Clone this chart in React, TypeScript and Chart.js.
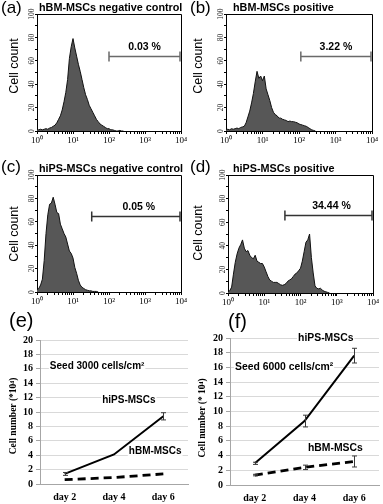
import React, { useEffect, useRef } from 'react';
import { Chart, registerables } from 'chart.js';

Chart.register(...registerables);

const SANS = "'Liberation Sans', Arial, Helvetica, sans-serif";
const SERIF = "'Liberation Serif', 'Times New Roman', serif";

// ---------- flow cytometry histograms (counts per channel; channel width 0.05 decade from 10^0) ----------
const CHANNEL_DECADES = 0.05;
const DECADE_LABELS = ['10⁰', '10¹', '10²', '10³', '10⁴'];
const COUNT_TICKS = [0, 20, 40, 60, 80, 100];

const hbmNegative = [1, 1, 1.5, 1, 1.5, 2, 1.5, 2.5, 3, 4, 5, 7, 10, 13, 18, 25, 33, 44, 62, 72, 79, 71, 64, 57, 51, 44, 37, 31, 27, 22, 19, 16, 13, 10, 8, 6, 5, 4, 3, 2, 2, 1, 1, 0.5, 0, 0, 0.5, 0, 0];
const hbmPositive = [1, 1.5, 1, 2, 1.5, 2, 2.5, 2, 3, 3.5, 4, 7, 12, 17, 24, 32, 42, 51, 45, 47, 43, 47, 36, 31, 26, 20, 16, 14, 13, 11, 11, 10, 9.5, 9, 8, 8.5, 8, 8, 7.5, 7, 6, 5.5, 5, 4.5, 4, 3, 2, 1, 0.5, 0];
const hipsNegative = [2, 3, 6, 11, 27, 50, 66, 75, 76, 81, 75, 68, 67, 58, 54, 50, 47, 41, 35, 33, 29, 21, 16, 10, 6, 4, 3, 2, 1.5, 1, 1, 0.5, 0.5, 0.5, 0];
const hipsPositive = [1, 2, 5, 16, 26, 33, 38, 41, 45, 38, 35, 36, 32, 30, 29, 32, 27, 26, 25, 25, 22, 18, 14, 11, 10, 9, 9, 9, 8, 7, 6.5, 7, 8, 10, 11, 12, 14, 16, 17, 19, 21, 27, 35, 43, 45, 50, 30, 17, 6, 4, 3.5, 4, 2.5, 1.5, 1, 0.5, 0];

const HIST_TITLES = ['hBM-MSCs negative control', 'hBM-MSCs positive', 'hiPS-MSCs negative control', 'hiPS-MSCs positive'];
const GATE_START = [2.0, 2.05, 1.52, 1.57];
const GATE_LEVEL = [64, 64, 65, 66];
const GATE_LABELS = ['0.03 %', '3.22 %', '0.05 %', '34.44 %'];
const PANEL_LETTERS = ['(a)', '(b)', '(c)', '(d)', '(e)', '(f)'];

// ---------- growth curves ----------
const DAYS = ['day 2', 'day 4', 'day 6'];
const E_HIPS = [1.4, 4.1, 9.4];
const E_HIPS_ERR = [0.2, 0, 0.5];
const E_HBM = [0.6, 0.9, 1.4];
const E_HBM_ERR = [0, 0, 0];
const F_HIPS = [2.95, 8.7, 17.6];
const F_HIPS_ERR = [0.15, 0.8, 1.0];
const F_HBM = [1.35, 2.4, 3.2];
const F_HBM_ERR = [0.1, 0.3, 0.75];

type Box = { x: number; y: number; w: number; h: number };
type Area = { l: number; t: number; r: number; b: number };

function frame(box: Box, area: Area) {
  return {
    padding: { left: 0, top: area.t - box.y, right: box.x + box.w - area.r, bottom: 0 },
    yWidth: area.l - box.x,
    xHeight: box.y + box.h - area.b,
  };
}

const DECADE_POSITIONS: number[] = [];
for (let d = 0; d < 4; d++) for (let k = 1; k <= 9; k++) DECADE_POSITIONS.push(d + Math.log10(k));
DECADE_POSITIONS.push(4);

const HIST_PANELS = [
  { i: 0, values: hbmNegative, box: { x: 0, y: 0, w: 190, h: 152 }, area: { l: 37, t: 14, r: 181, b: 131 }, letterPos: [1, 8], titlePos: [39, 8], ylabPos: [15, 66], gateColor: '#6a6a6a', labelShift: 0 },
  { i: 1, values: hbmPositive, box: { x: 190, y: 0, w: 193, h: 152 }, area: { l: 226, t: 14, r: 372, b: 131 }, letterPos: [190, 8], titlePos: [233, 8], ylabPos: [199, 66], gateColor: '#6a6a6a', labelShift: 0 },
  { i: 2, values: hipsNegative, box: { x: 0, y: 150, w: 190, h: 162 }, area: { l: 37, t: 175, r: 181, b: 292 }, letterPos: [1, 167], titlePos: [39, 169], ylabPos: [15, 234], gateColor: '#333333', labelShift: 3 },
  { i: 3, values: hipsPositive, box: { x: 190, y: 150, w: 193, h: 162 }, area: { l: 228, t: 175, r: 373, b: 293 }, letterPos: [190, 167], titlePos: [233, 169], ylabPos: [199, 233], gateColor: '#333333', labelShift: 3 },
];

function histConfig(p: any) {
  const f = frame(p.box, p.area);
  const decor = {
    id: 'histDecor',
    afterDraw(chart: any) {
      const { ctx, chartArea: a, scales } = chart;
      const xs = scales.x;
      const ys = scales.y;
      ctx.save();
      ctx.strokeStyle = '#000';
      ctx.lineWidth = 1;
      ctx.beginPath();
      ctx.moveTo(a.left, a.top + 0.5);
      ctx.lineTo(a.right + 0.5, a.top + 0.5);
      ctx.lineTo(a.right + 0.5, a.bottom);
      ctx.stroke();
      // gate bracket
      const x1 = xs.getPixelForValue(GATE_START[p.i]);
      const x2 = xs.getPixelForValue(xs.max) - 1;
      const gy = Math.round(ys.getPixelForValue(GATE_LEVEL[p.i])) + 0.5;
      ctx.strokeStyle = p.gateColor;
      ctx.lineWidth = 1.5;
      ctx.beginPath();
      ctx.moveTo(x1, gy); ctx.lineTo(x2, gy);
      ctx.moveTo(x1, gy - 5); ctx.lineTo(x1, gy + 5);
      ctx.moveTo(x2, gy - 5); ctx.lineTo(x2, gy + 5);
      ctx.stroke();
      ctx.fillStyle = '#000';
      ctx.font = `bold 10.5px ${SANS}`;
      ctx.textAlign = 'center';
      ctx.textBaseline = 'middle';
      ctx.fillText(GATE_LABELS[p.i], (x1 + x2) / 2 + p.labelShift, gy - 9);
      // rotated count tick labels
      ctx.fillStyle = '#222';
      ctx.font = `7.5px ${SERIF}`;
      for (const v of COUNT_TICKS) {
        const y = ys.getPixelForValue(v);
        ctx.save();
        ctx.translate(a.left - 5, y);
        ctx.rotate(-Math.PI / 2);
        ctx.textAlign = 'center';
        ctx.textBaseline = 'middle';
        ctx.fillText(String(v), 0, 0);
        ctx.restore();
      }
      // title, letter, axis title
      const ox = p.box.x, oy = p.box.y;
      ctx.fillStyle = '#000';
      ctx.textAlign = 'left';
      ctx.textBaseline = 'middle';
      ctx.font = `bold 10.8px ${SANS}`;
      ctx.fillText(HIST_TITLES[p.i], p.titlePos[0] - ox, p.titlePos[1] - oy);
      ctx.font = `17px ${SANS}`;
      ctx.fillText(PANEL_LETTERS[p.i], p.letterPos[0] - ox, p.letterPos[1] - oy);
      ctx.save();
      ctx.translate(p.ylabPos[0] - ox, p.ylabPos[1] - oy);
      ctx.rotate(-Math.PI / 2);
      ctx.textAlign = 'center';
      ctx.font = `12.5px ${SANS}`;
      ctx.fillText('Cell count', 0, 0);
      ctx.restore();
      ctx.restore();
    },
  };
  return {
    type: 'line',
    data: {
      datasets: [{
        data: p.values.map((v: number, i: number) => ({ x: i * CHANNEL_DECADES, y: v })),
        borderColor: '#111',
        borderWidth: 1,
        backgroundColor: '#575757',
        fill: 'origin',
        pointRadius: 0,
        tension: 0,
      }],
    },
    options: {
      responsive: false,
      animation: false,
      events: [],
      layout: { padding: f.padding },
      plugins: { legend: { display: false }, tooltip: { enabled: false } },
      scales: {
        x: {
          type: 'linear', min: 0, max: 4,
          afterFit: (s: any) => { s.height = f.xHeight; },
          afterBuildTicks: (s: any) => { s.ticks = DECADE_POSITIONS.map((v) => ({ value: v })); },
          ticks: {
            autoSkip: false, maxRotation: 0, minRotation: 0, padding: 1, color: '#000',
            font: { family: SERIF, size: 9 },
            callback: (v: number) => (Number.isInteger(v) ? DECADE_LABELS[v] : ''),
          },
          grid: { drawOnChartArea: false, drawTicks: true, tickLength: 3, color: '#000' },
          border: { color: '#000', width: 1 },
        },
        y: {
          min: 0, max: 100,
          afterFit: (s: any) => { s.width = f.yWidth; },
          ticks: { stepSize: 10, autoSkip: false, display: false },
          grid: { drawOnChartArea: false, drawTicks: true, tickLength: 2, color: '#000' },
          border: { color: '#000', width: 1 },
        },
      },
    },
    plugins: [decor],
  };
}

const GROWTH_PANELS = [
  {
    i: 4, hips: E_HIPS, hipsErr: E_HIPS_ERR, hbm: E_HBM, hbmErr: E_HBM_ERR,
    box: { x: 0, y: 305, w: 192, h: 199 }, area: { l: 40, t: 340, r: 188, b: 484 },
    letterPos: [9, 321], ytitlePos: [14, 416], ytitle: 'Cell number (*10⁴)',
    notes: [
      { text: 'Seed 3000 cells/cm²', x: -0.3, y: 16.3, size: 10 },
      { text: 'hiPS-MSCs', x: 0.76, y: 11.7, size: 10 },
      { text: 'hBM-MSCs', x: 1.3, y: 4.6, size: 10 },
    ],
  },
  {
    i: 5, hips: F_HIPS, hipsErr: F_HIPS_ERR, hbm: F_HBM, hbmErr: F_HBM_ERR,
    box: { x: 192, y: 305, w: 191, h: 199 }, area: { l: 230, t: 338, r: 379, b: 485 },
    letterPos: [228, 322], ytitlePos: [203, 418], ytitle: 'Cell number (* 10⁴)',
    notes: [
      { text: 'hiPS-MSCs', x: 0.87, y: 20, size: 10.4 },
      { text: 'Seed 6000 cells/cm²', x: -0.4, y: 16, size: 10.4 },
      { text: 'hBM-MSCs', x: 1.07, y: 5, size: 10.4 },
    ],
  },
];

function growthConfig(p: any) {
  const f = frame(p.box, p.area);
  const decor = {
    id: 'growthDecor',
    afterDatasetsDraw(chart: any) {
      const { ctx, scales } = chart;
      const xs = scales.x;
      const ys = scales.y;
      ctx.save();
      // error bars
      ctx.strokeStyle = '#3a3a3a';
      ctx.lineWidth = 1;
      [p.hipsErr, p.hbmErr].forEach((errs: number[], di: number) => {
        const meta = chart.getDatasetMeta(di);
        const vals = chart.data.datasets[di].data;
        errs.forEach((e, j) => {
          if (!e) return;
          const x = Math.round(meta.data[j].x) + 0.5;
          const y1 = ys.getPixelForValue(vals[j] + e);
          const y2 = ys.getPixelForValue(vals[j] - e);
          ctx.beginPath();
          ctx.moveTo(x, y1); ctx.lineTo(x, y2);
          ctx.moveTo(x - 2.5, y1); ctx.lineTo(x + 2.5, y1);
          ctx.moveTo(x - 2.5, y2); ctx.lineTo(x + 2.5, y2);
          ctx.stroke();
        });
      });
      // notes with white background
      ctx.textAlign = 'left';
      ctx.textBaseline = 'middle';
      for (const n of p.notes) {
        ctx.font = `bold ${n.size}px ${SANS}`;
        const x = xs.getPixelForValue(n.x);
        const y = ys.getPixelForValue(n.y);
        const w = ctx.measureText(n.text).width;
        ctx.fillStyle = '#fff';
        ctx.fillRect(x - 1, y - 5, w + 2, 10);
        ctx.fillStyle = '#000';
        ctx.fillText(n.text, x, y);
      }
      const ox = p.box.x, oy = p.box.y;
      ctx.font = `20px ${SANS}`;
      ctx.fillText(PANEL_LETTERS[p.i], p.letterPos[0] - ox, p.letterPos[1] - oy);
      ctx.save();
      ctx.translate(p.ytitlePos[0] - ox, p.ytitlePos[1] - oy);
      ctx.rotate(-Math.PI / 2);
      ctx.textAlign = 'center';
      ctx.font = `bold 9.5px ${SERIF}`;
      ctx.fillText(p.ytitle, 0, 0);
      ctx.restore();
      ctx.restore();
    },
  };
  return {
    type: 'line',
    data: {
      labels: DAYS,
      datasets: [
        { data: p.hips, borderColor: '#000', borderWidth: 2, pointRadius: 0, fill: false, tension: 0 },
        { data: p.hbm, borderColor: '#000', borderWidth: 2.8, borderDash: [8, 5], pointRadius: 0, fill: false, tension: 0 },
      ],
    },
    options: {
      responsive: false,
      animation: false,
      events: [],
      layout: { padding: f.padding },
      plugins: { legend: { display: false }, tooltip: { enabled: false } },
      scales: {
        x: {
          offset: true,
          afterFit: (s: any) => { s.height = f.xHeight; },
          grid: { display: false, drawTicks: false, tickLength: 0 },
          border: { display: true, color: '#a6a6a6' },
          ticks: { padding: 7, color: '#000', font: { family: SERIF, size: 10, weight: 'bold' } },
        },
        y: {
          min: 0, max: 20,
          afterFit: (s: any) => { s.width = f.yWidth; },
          ticks: { stepSize: 2, autoSkip: false, padding: 3, color: '#000', font: { family: SERIF, size: 10, weight: 'bold' } },
          grid: { color: '#d9d9d9', tickColor: '#a6a6a6', tickLength: 4 },
          border: { color: '#a6a6a6' },
        },
      },
    },
    plugins: [decor],
  };
}

function ChartCanvas({ box, make }: { box: Box; make: () => any }) {
  const ref = useRef<HTMLCanvasElement>(null);
  useEffect(() => {
    const chart = new Chart(ref.current as HTMLCanvasElement, make());
    return () => chart.destroy();
  }, []);
  return (
    <canvas
      ref={ref}
      width={box.w}
      height={box.h}
      style={{ position: 'absolute', left: box.x, top: box.y, width: box.w, height: box.h }}
    />
  );
}

export default function App() {
  return (
    <div style={{ position: 'absolute', left: 0, top: 0, width: 383, height: 504, background: '#fff', overflow: 'hidden' }}>
      {HIST_PANELS.map((p) => (
        <ChartCanvas key={p.i} box={p.box} make={() => histConfig(p)} />
      ))}
      {GROWTH_PANELS.map((p) => (
        <ChartCanvas key={p.i} box={p.box} make={() => growthConfig(p)} />
      ))}
    </div>
  );
}
